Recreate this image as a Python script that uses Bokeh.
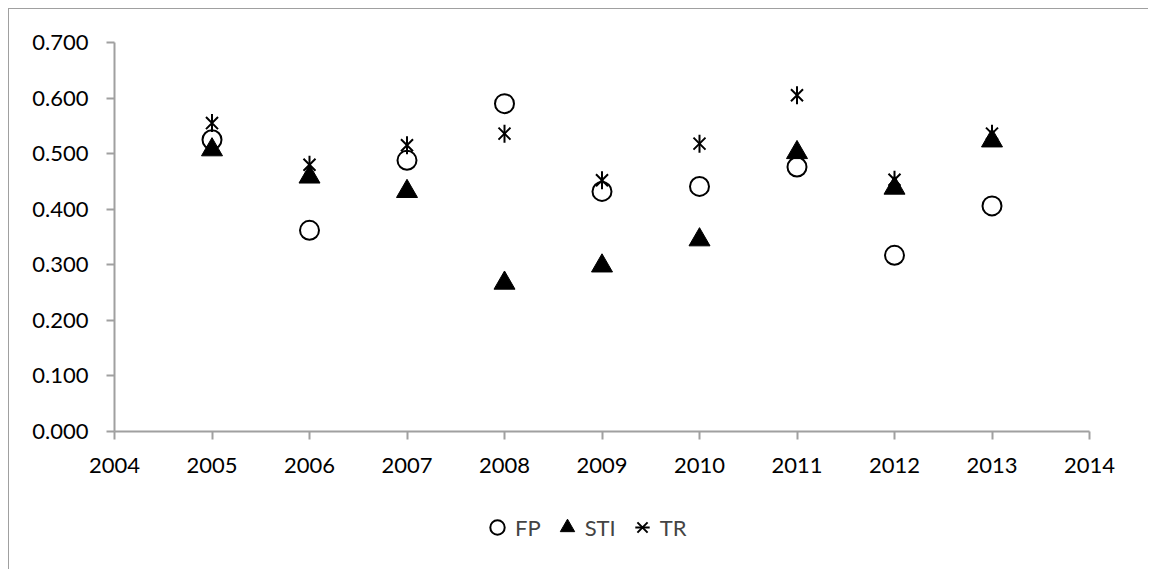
import math
from bokeh.plotting import figure
from bokeh.models import Range1d, FixedTicker, Legend, LegendItem
from bokeh.embed import file_html
from bokeh.resources import INLINE

# ---- data ----
years = [2005, 2006, 2007, 2008, 2009, 2010, 2011, 2012, 2013]
fp = [0.525, 0.362, 0.488, 0.590, 0.432, 0.441, 0.476, 0.317, 0.406]
sti = [0.507, 0.458, 0.432, 0.267, 0.298, 0.345, 0.502, 0.438, 0.523]
tr = [0.555, 0.480, 0.515, 0.536, 0.452, 0.518, 0.605, 0.453, 0.536]
series_names = ["FP", "STI", "TR"]
x_ticks = [2004, 2005, 2006, 2007, 2008, 2009, 2010, 2011, 2012, 2013, 2014]
x_tick_labels = ["2004", "2005", "2006", "2007", "2008", "2009", "2010", "2011", "2012", "2013", "2014"]
y_ticks = [0.0, 0.1, 0.2, 0.3, 0.4, 0.5, 0.6, 0.7]
y_tick_labels = ["0.000", "0.100", "0.200", "0.300", "0.400", "0.500", "0.600", "0.700"]

FONT = "Lato"
GRAY = "#a0a0a0"

# The frame covers the whole canvas; both axes are pinned to the data origin
# (2004, 0) so tick labels and the legend are drawn inside the frame.
X_MIN, X_MAX = x_ticks[0], x_ticks[-1]
Y_MIN, Y_MAX = y_ticks[0], y_ticks[-1]
PX_PER_YEAR = 975 / (X_MAX - X_MIN)
PX_PER_UNIT = 389 / (Y_MAX - Y_MIN)
x_lo = X_MIN - 100 / PX_PER_YEAR
x_hi = X_MAX + 55 / PX_PER_YEAR
y_lo = Y_MIN - 134 / PX_PER_UNIT
y_hi = Y_MAX + 28 / PX_PER_UNIT

p = figure(width=1140, height=561, output_backend="svg", toolbar_location=None,
           x_range=Range1d(x_lo, x_hi), y_range=Range1d(y_lo, y_hi),
           min_border_left=5, min_border_top=5, min_border_right=5, min_border_bottom=5)
p.styles = {"margin-left": "8px", "margin-top": "8px",
            "border-left": "1px solid " + GRAY, "border-top": "1px solid " + GRAY}
p.outline_line_color = None
p.xgrid.visible = False
p.ygrid.visible = False
p.background_fill_color = "white"
p.border_fill_color = "white"

p.xaxis[0].fixed_location = Y_MIN
p.xaxis[0].bounds = (X_MIN, X_MAX)
p.yaxis[0].fixed_location = X_MIN
p.yaxis[0].bounds = (Y_MIN, Y_MAX)

for ax, ticks, labels in ((p.xaxis[0], x_ticks, x_tick_labels), (p.yaxis[0], y_ticks, y_tick_labels)):
    ax.ticker = FixedTicker(ticks=ticks)
    ax.major_label_overrides = {t: l for t, l in zip(ticks, labels)}
    ax.axis_line_color = GRAY
    ax.axis_line_width = 2
    ax.major_tick_line_color = GRAY
    ax.major_tick_line_width = 2
    ax.major_tick_out = 8
    ax.major_tick_in = 0
    ax.minor_tick_line_color = None
    ax.major_label_text_font = FONT
    ax.major_label_text_font_size = "22px"
    ax.major_label_text_color = "black"
    ax.major_label_standoff = 18

r_fp = p.scatter(years, fp, marker="circle", size=19, fill_color=None,
                 line_color="black", line_width=2)
r_sti = p.scatter(years, sti, marker="triangle", size=21, fill_color="black",
                  line_color="black", line_width=1)
r_trx = p.scatter(years, tr, marker="x", size=17, line_color="black", line_width=2)
r_trv = p.scatter(years, tr, marker="dash", size=18, angle=math.pi / 2,
                  line_color="black", line_width=2)

legend = Legend(items=[LegendItem(label=series_names[0], renderers=[r_fp]),
                       LegendItem(label=series_names[1], renderers=[r_sti]),
                       LegendItem(label=series_names[2], renderers=[r_trx, r_trv])],
                orientation="horizontal", location=(465, 20),
                border_line_color=None, background_fill_alpha=0,
                label_text_font=FONT, label_text_font_size="22px",
                glyph_width=36, glyph_height=36, label_standoff=0, spacing=8,
                padding=0, margin=0)
p.add_layout(legend, "center")

open("out.html", "w").write(file_html(p, INLINE))
